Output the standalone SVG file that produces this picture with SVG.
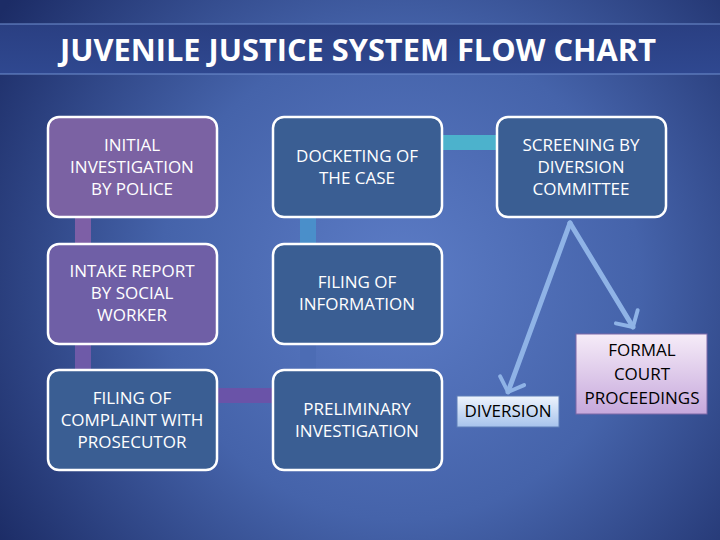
<svg xmlns="http://www.w3.org/2000/svg" width="720" height="540" viewBox="0 0 720 540">
<defs>
<radialGradient id="bg" cx="400" cy="280" r="480" gradientUnits="userSpaceOnUse">
<stop offset="0" stop-color="#5c7cc6"/>
<stop offset="0.5" stop-color="#4563aa"/>
<stop offset="1" stop-color="#1c2c66"/>
</radialGradient>
<linearGradient id="tb" x1="0" y1="0" x2="0" y2="1">
<stop offset="0" stop-color="#2a3f82"/>
<stop offset="1" stop-color="#2f4890"/>
</linearGradient>
<linearGradient id="divg" x1="0" y1="0" x2="0" y2="1">
<stop offset="0" stop-color="#eef4fd"/>
<stop offset="1" stop-color="#a7c3ec"/>
</linearGradient>
<linearGradient id="fcg" x1="0" y1="0" x2="0" y2="1">
<stop offset="0" stop-color="#f6ecf8"/>
<stop offset="1" stop-color="#c6a8dc"/>
</linearGradient>
<marker id="ah" viewBox="0 0 20 20" refX="10" refY="10" markerWidth="6" markerHeight="6" orient="auto" markerUnits="strokeWidth">
<path d="M2,1.5 L10,10 L2,18.5" fill="none" stroke="#8fb3e6" stroke-width="2.6" stroke-linecap="round" stroke-linejoin="round"/>
</marker>
</defs>
<style>
.box{stroke:#ffffff;stroke-width:2.5}
.pur{fill:#7b62a3}
.pur2{fill:#6f5fa6}
.blu{fill:#3a5e93}
.t{font-family:"Open Sans","Noto Sans","DejaVu Sans",sans-serif;font-size:17px;fill:#ffffff;text-anchor:middle}
.k{font-family:"Open Sans","Noto Sans","DejaVu Sans",sans-serif;font-size:17px;fill:#000000;text-anchor:middle}
.arr{stroke:#8fb3e6;stroke-width:5;fill:none;stroke-linecap:round}
</style>
<rect width="720" height="540" fill="url(#bg)"/>
<g id="title">
<rect x="-1" y="24" width="722" height="50" fill="url(#tb)" stroke="#7090d0" stroke-width="1"/>
<text x="358" y="61" font-family="'Open Sans','Noto Sans',sans-serif" font-size="30" font-weight="bold" fill="#ffffff" text-anchor="middle" textLength="596" lengthAdjust="spacingAndGlyphs">JUVENILE JUSTICE SYSTEM FLOW CHART</text>
</g>
<g id="connectors">
<rect x="75" y="210" width="16" height="40" fill="#7d5fa6"/>
<rect x="75" y="338" width="16" height="38" fill="#6e5aa8"/>
<rect x="300" y="210" width="16" height="40" fill="#4a8fca"/>
<rect x="300" y="338" width="16" height="38" fill="#4c6cb4"/>
<rect x="210" y="388" width="70" height="15" fill="#6a53a8"/>
<rect x="435" y="135" width="70" height="15" fill="#4cb2cc"/>
<line class="arr" x1="570" y1="223" x2="508" y2="392" marker-end="url(#ah)"/>
<line class="arr" x1="570" y1="223" x2="633" y2="327" marker-end="url(#ah)"/>
</g>
<g id="n1"><rect class="box pur" x="48" y="117" width="169" height="100" rx="11"/>
<text class="t" x="132" y="151">INITIAL</text><text class="t" x="132" y="173">INVESTIGATION</text><text class="t" x="132" y="195">BY POLICE</text></g>
<g id="n2"><rect class="box blu" x="273" y="117" width="169" height="100" rx="11"/>
<text class="t" x="357" y="162">DOCKETING OF</text><text class="t" x="357" y="184">THE CASE</text></g>
<g id="n3"><rect class="box blu" x="497" y="117" width="169" height="100" rx="11"/>
<text class="t" x="581" y="151">SCREENING BY</text><text class="t" x="581" y="173">DIVERSION</text><text class="t" x="581" y="195">COMMITTEE</text></g>
<g id="n4"><rect class="box pur2" x="48" y="244" width="169" height="100" rx="11"/>
<text class="t" x="132" y="277">INTAKE REPORT</text><text class="t" x="132" y="299">BY SOCIAL</text><text class="t" x="132" y="321">WORKER</text></g>
<g id="n5"><rect class="box blu" x="273" y="244" width="169" height="100" rx="11"/>
<text class="t" x="357" y="288">FILING OF</text><text class="t" x="357" y="310">INFORMATION</text></g>
<g id="n6"><rect class="box blu" x="48" y="370" width="169" height="100" rx="11"/>
<text class="t" x="132" y="404">FILING OF</text><text class="t" x="132" y="426">COMPLAINT WITH</text><text class="t" x="132" y="448">PROSECUTOR</text></g>
<g id="n7"><rect class="box blu" x="273" y="370" width="169" height="100" rx="11"/>
<text class="t" x="357" y="415">PRELIMINARY</text><text class="t" x="357" y="437">INVESTIGATION</text></g>
<g id="n8"><rect x="457" y="396" width="102" height="31" fill="url(#divg)" stroke="#5f7fb8" stroke-width="1"/>
<text class="k" x="508" y="417">DIVERSION</text></g>
<g id="n9"><rect x="576" y="334" width="131" height="80" fill="url(#fcg)" stroke="#7d68a8" stroke-width="1"/>
<text class="k" x="642" y="356">FORMAL</text><text class="k" x="642" y="380">COURT</text><text class="k" x="642" y="404">PROCEEDINGS</text></g>
</svg>
